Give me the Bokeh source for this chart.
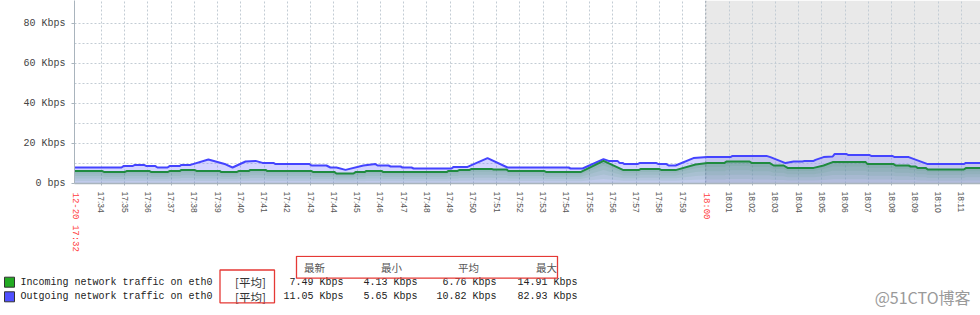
from bokeh.plotting import figure
from bokeh.models import Range1d, FixedTicker, BoxAnnotation, Span, LinearAxis
from bokeh.layouts import column
from bokeh.embed import file_html
from bokeh.resources import INLINE
from bokeh.core.properties import value

# ---- data: time in minutes after 17:00, values in Kbps ----
out_t = [32.84, 34.86, 34.95, 35.33, 35.42, 35.85, 35.94, 36.32, 36.41, 36.84, 36.93, 37.36, 37.44,
         37.83, 38.60, 39.34, 39.64, 40.20, 40.63, 40.93, 41.40, 41.49, 42.95, 43.04, 43.68, 43.85,
         44.11, 44.50, 45.27, 45.79, 45.88, 46.35, 46.44, 46.87, 46.95, 47.34, 47.43, 49.06, 49.15,
         49.75, 50.61, 51.47, 54.10, 54.18, 54.70, 55.60, 55.82, 56.20, 56.29, 56.42, 56.50, 57.06,
         57.15, 57.88, 57.97, 58.31, 58.40, 58.70, 59.47, 60.07, 61.06, 61.15, 62.61, 62.78, 63.43,
         63.78, 64.16, 64.25, 64.64, 64.72, 65.07, 65.46, 65.54, 66.06, 66.14, 67.05, 67.14, 68.04,
         68.13, 68.73, 69.55, 71.10, 71.19, 71.82]
out_v = [8.0, 8.0, 8.7, 8.7, 9.2, 9.2, 8.7, 8.7, 8.0, 8.0, 8.7, 8.7, 9.3,
         9.3, 12.0, 9.6, 8.0, 11.0, 11.3, 10.3, 10.3, 9.7, 9.7, 9.0, 9.0, 8.0,
         8.0, 6.8, 9.0, 9.7, 9.0, 9.0, 8.5, 8.5, 8.0, 8.0, 7.5, 7.5, 8.3,
         8.3, 12.7, 8.0, 8.0, 7.5, 7.5, 12.2, 11.3, 11.3, 10.3, 10.3, 9.7, 9.7,
         10.2, 10.2, 9.7, 9.7, 9.0, 9.0, 12.7, 13.2, 13.2, 13.8, 13.8, 13.2, 10.2,
         11.0, 11.0, 11.3, 11.3, 11.8, 13.2, 13.5, 14.7, 14.7, 14.2, 14.2, 13.7, 13.7,
         13.2, 13.2, 9.7, 9.7, 10.3, 10.3]

in_t = [32.84, 34.04, 34.13, 34.99, 35.08, 36.07, 36.15, 36.84, 36.93, 37.36, 37.44, 38.00, 38.09,
        39.08, 39.16, 39.81, 39.90, 40.33, 40.41, 41.06, 41.14, 43.04, 43.12, 44.03, 44.11, 44.84,
        44.93, 45.32, 45.40, 46.05, 46.13, 48.85, 48.93, 49.32, 49.41, 49.84, 49.92, 50.78, 50.87,
        51.43, 51.51, 53.06, 53.15, 54.61, 55.60, 56.46, 57.11, 57.19, 58.01, 58.10, 58.70, 59.56,
        60.07, 60.81, 60.89, 61.88, 61.97, 62.74, 62.92, 63.35, 63.52, 64.64, 65.07, 65.46, 66.88,
        66.96, 68.08, 68.17, 68.73, 68.81, 69.03, 69.11, 69.46, 69.55, 71.10, 71.19, 71.82]
in_v = [6.2, 6.2, 5.7, 5.7, 6.2, 6.2, 5.7, 5.7, 6.2, 6.2, 6.8, 6.8, 6.3,
        6.3, 5.7, 5.7, 6.2, 6.2, 6.8, 6.8, 6.2, 6.2, 5.7, 5.7, 5.0, 5.0,
        5.7, 5.7, 6.3, 6.3, 5.7, 5.7, 6.3, 6.3, 6.8, 6.8, 7.3, 7.3, 7.0,
        7.0, 6.2, 6.2, 5.7, 5.7, 11.3, 6.7, 6.7, 7.2, 7.2, 6.7, 6.7, 9.5,
        10.3, 10.3, 11.0, 11.0, 10.3, 10.3, 9.0, 9.0, 7.8, 7.8, 9.0, 10.7, 10.7,
        9.7, 9.7, 9.0, 9.0, 8.5, 8.5, 7.8, 7.8, 7.0, 7.0, 7.7, 7.7]

x_start, x_end = 32.84, 71.82      # 17:32:50 .. 18:11:49
y_max = 91.5
highlight_from = 60                # 18:00
first_label = "12-20 17:32"
highlight_label = "18:00"
tick_minutes = list(range(34, 72))
tick_labels = ["%d:%02d" % (17 + m // 60, m % 60) for m in tick_minutes]
y_ticks = [0, 20, 40, 60, 80]
y_tick_labels = ["0 bps", "20 Kbps", "40 Kbps", "60 Kbps", "80 Kbps"]

series_names = ["Incoming network traffic on eth0", "Outgoing network traffic on eth0"]
series_colors = ["#22aa22", "#5050ff"]
func_label = "[平均]"
col_headers = ["最新", "最小", "平均", "最大"]
in_stats = ["7.49 Kbps", "4.13 Kbps", "6.76 Kbps", "14.91 Kbps"]
out_stats = ["11.05 Kbps", "5.65 Kbps", "10.82 Kbps", "82.93 Kbps"]
watermark = "@51CTO博客"

MONO = "Liberation Mono"
CJK = "Noto Sans CJK SC"

# ---- main chart ----
p = figure(width=980, height=255, output_backend="svg", toolbar_location=None,
           x_range=Range1d(x_start, x_end), y_range=Range1d(0, y_max),
           min_border_left=74, min_border_right=0, min_border_top=0, min_border_bottom=72)
p.frame_align = False
p.outline_line_color = None
p.background_fill_color = "white"
p.border_fill_color = "white"

p.add_layout(BoxAnnotation(left=highlight_from, fill_color="#e9e9e9", fill_alpha=1.0,
                           line_color=None, level="image"))

p.xgrid.ticker = FixedTicker(ticks=tick_minutes)
p.ygrid.ticker = FixedTicker(ticks=[10, 20, 30, 40, 50, 60, 70, 80])
for g in (p.xgrid, p.ygrid):
    g.grid_line_color = "#c3ccd4"
    g.grid_line_dash = "2 2"
    g.grid_line_width = 1
p.add_layout(Span(location=highlight_from, dimension="height", line_color="#9aa3ab",
                  line_dash="2 2", line_width=1, level="underlay"))

# outgoing: translucent lavender fill
p.varea(x=out_t, y1=0, y2=out_v, fill_color="#6f6fff", fill_alpha=0.3)
# incoming: green fill, darker toward its top edge (gradient-like bands)
p.varea(x=in_t, y1=0, y2=in_v, fill_color="#3c8c5a", fill_alpha=0.12)
for frac in (0.2, 0.4, 0.6, 0.8):
    p.varea(x=in_t, y1=[v * frac for v in in_v], y2=in_v, fill_color="#3c8c5a", fill_alpha=0.09)
p.line(out_t, out_v, line_color="#4444ff", line_width=2)
p.line(in_t, in_v, line_color="#1f8b3f", line_width=2)

# axes
xa = p.xaxis[0]
xa.ticker = FixedTicker(ticks=tick_minutes)
ov = {m: lab for m, lab in zip(tick_minutes, tick_labels)}
ov[highlight_from] = ""
xa.major_label_overrides = ov
xa.major_label_orientation = "vertical"
xa.major_label_text_font = "Liberation Sans"
xa.major_label_text_font_size = "8.5px"
xa.major_label_text_color = "#555555"
xa.major_label_standoff = 6
xa.major_tick_in = 0
xa.major_tick_out = 2
xa.minor_tick_out = 0
xa.minor_tick_in = 0
xa.axis_line_color = "#a9b4bd"
xa.axis_line_width = 1.5
xa.major_tick_line_color = "#a9b4bd"

# second (red) label axis for the start time and the 18:00 mark
red_axis = LinearAxis(ticker=FixedTicker(ticks=[x_start, highlight_from]),
                      major_label_overrides={x_start: first_label, highlight_from: highlight_label},
                      major_label_orientation="vertical",
                      major_label_text_color="#ff4040",
                      major_label_text_font=MONO,
                      major_label_text_font_size="9px",
                      major_label_standoff=-23,
                      axis_line_color=None, major_tick_line_color=None, minor_tick_line_color=None,
                      major_tick_out=0, major_tick_in=0, minor_tick_out=0, minor_tick_in=0)
p.add_layout(red_axis, "below")

ya = p.yaxis[0]
ya.ticker = FixedTicker(ticks=y_ticks)
ya.major_label_overrides = {t: s for t, s in zip(y_ticks, y_tick_labels)}
ya.major_label_text_font = MONO
ya.major_label_text_font_size = "10px"
ya.major_label_text_color = "#444444"
ya.major_label_standoff = 6
ya.major_tick_in = 0
ya.major_tick_out = 3
ya.minor_tick_in = 0
ya.minor_tick_out = 0
ya.axis_line_color = "#a9b4bd"
ya.major_tick_line_color = "#a9b4bd"

# ---- legend / statistics area ----
q = figure(width=980, height=60, output_backend="svg", toolbar_location=None,
           x_range=Range1d(0, 980), y_range=Range1d(315, 255),
           min_border_left=0, min_border_right=0, min_border_top=0, min_border_bottom=0)
q.frame_align = False
q.outline_line_color = None
q.xaxis.visible = False
q.yaxis.visible = False
q.xgrid.visible = False
q.ygrid.visible = False

rows_y = [281.7, 296.3]
q.rect(x=[9, 9], y=rows_y, width=10, height=10, fill_color=series_colors, line_color="#333333")
q.text(x=[20, 20], y=rows_y, text=series_names, text_font=value(MONO), text_font_size="10px",
       text_baseline="middle", text_align="left", text_color="#222222")
q.text(x=[250, 250], y=rows_y, text=[func_label, func_label], text_font=value(CJK),
       text_font_size="11.5px", text_baseline="middle", text_align="center", text_color="#333333")
stat_x = [343, 417, 496, 577]
q.text(x=stat_x, y=[rows_y[0]] * 4, text=in_stats, text_font=value(MONO), text_font_size="10px",
       text_baseline="middle", text_align="right", text_color="#222222")
q.text(x=stat_x, y=[rows_y[1]] * 4, text=out_stats, text_font=value(MONO), text_font_size="10px",
       text_baseline="middle", text_align="right", text_color="#222222")
q.text(x=[314, 391, 468, 546], y=[266.7] * 4, text=col_headers, text_font=value(CJK),
       text_font_size="10.5px", text_baseline="middle", text_align="center", text_color="#555555")
q.quad(left=[296, 219.5], right=[557, 274], top=[255.8, 269.5], bottom=[277.7, 302.3],
       fill_alpha=0, line_color="#e53935", line_width=1.3)
q.text(x=[970], y=[296], text=[watermark], text_font=value(CJK), text_font_size="16px",
       text_baseline="middle", text_align="right", text_color="#9a9a9a")

layout = column(p, q, spacing=0)
open("out.html", "w").write(file_html(layout, INLINE))
